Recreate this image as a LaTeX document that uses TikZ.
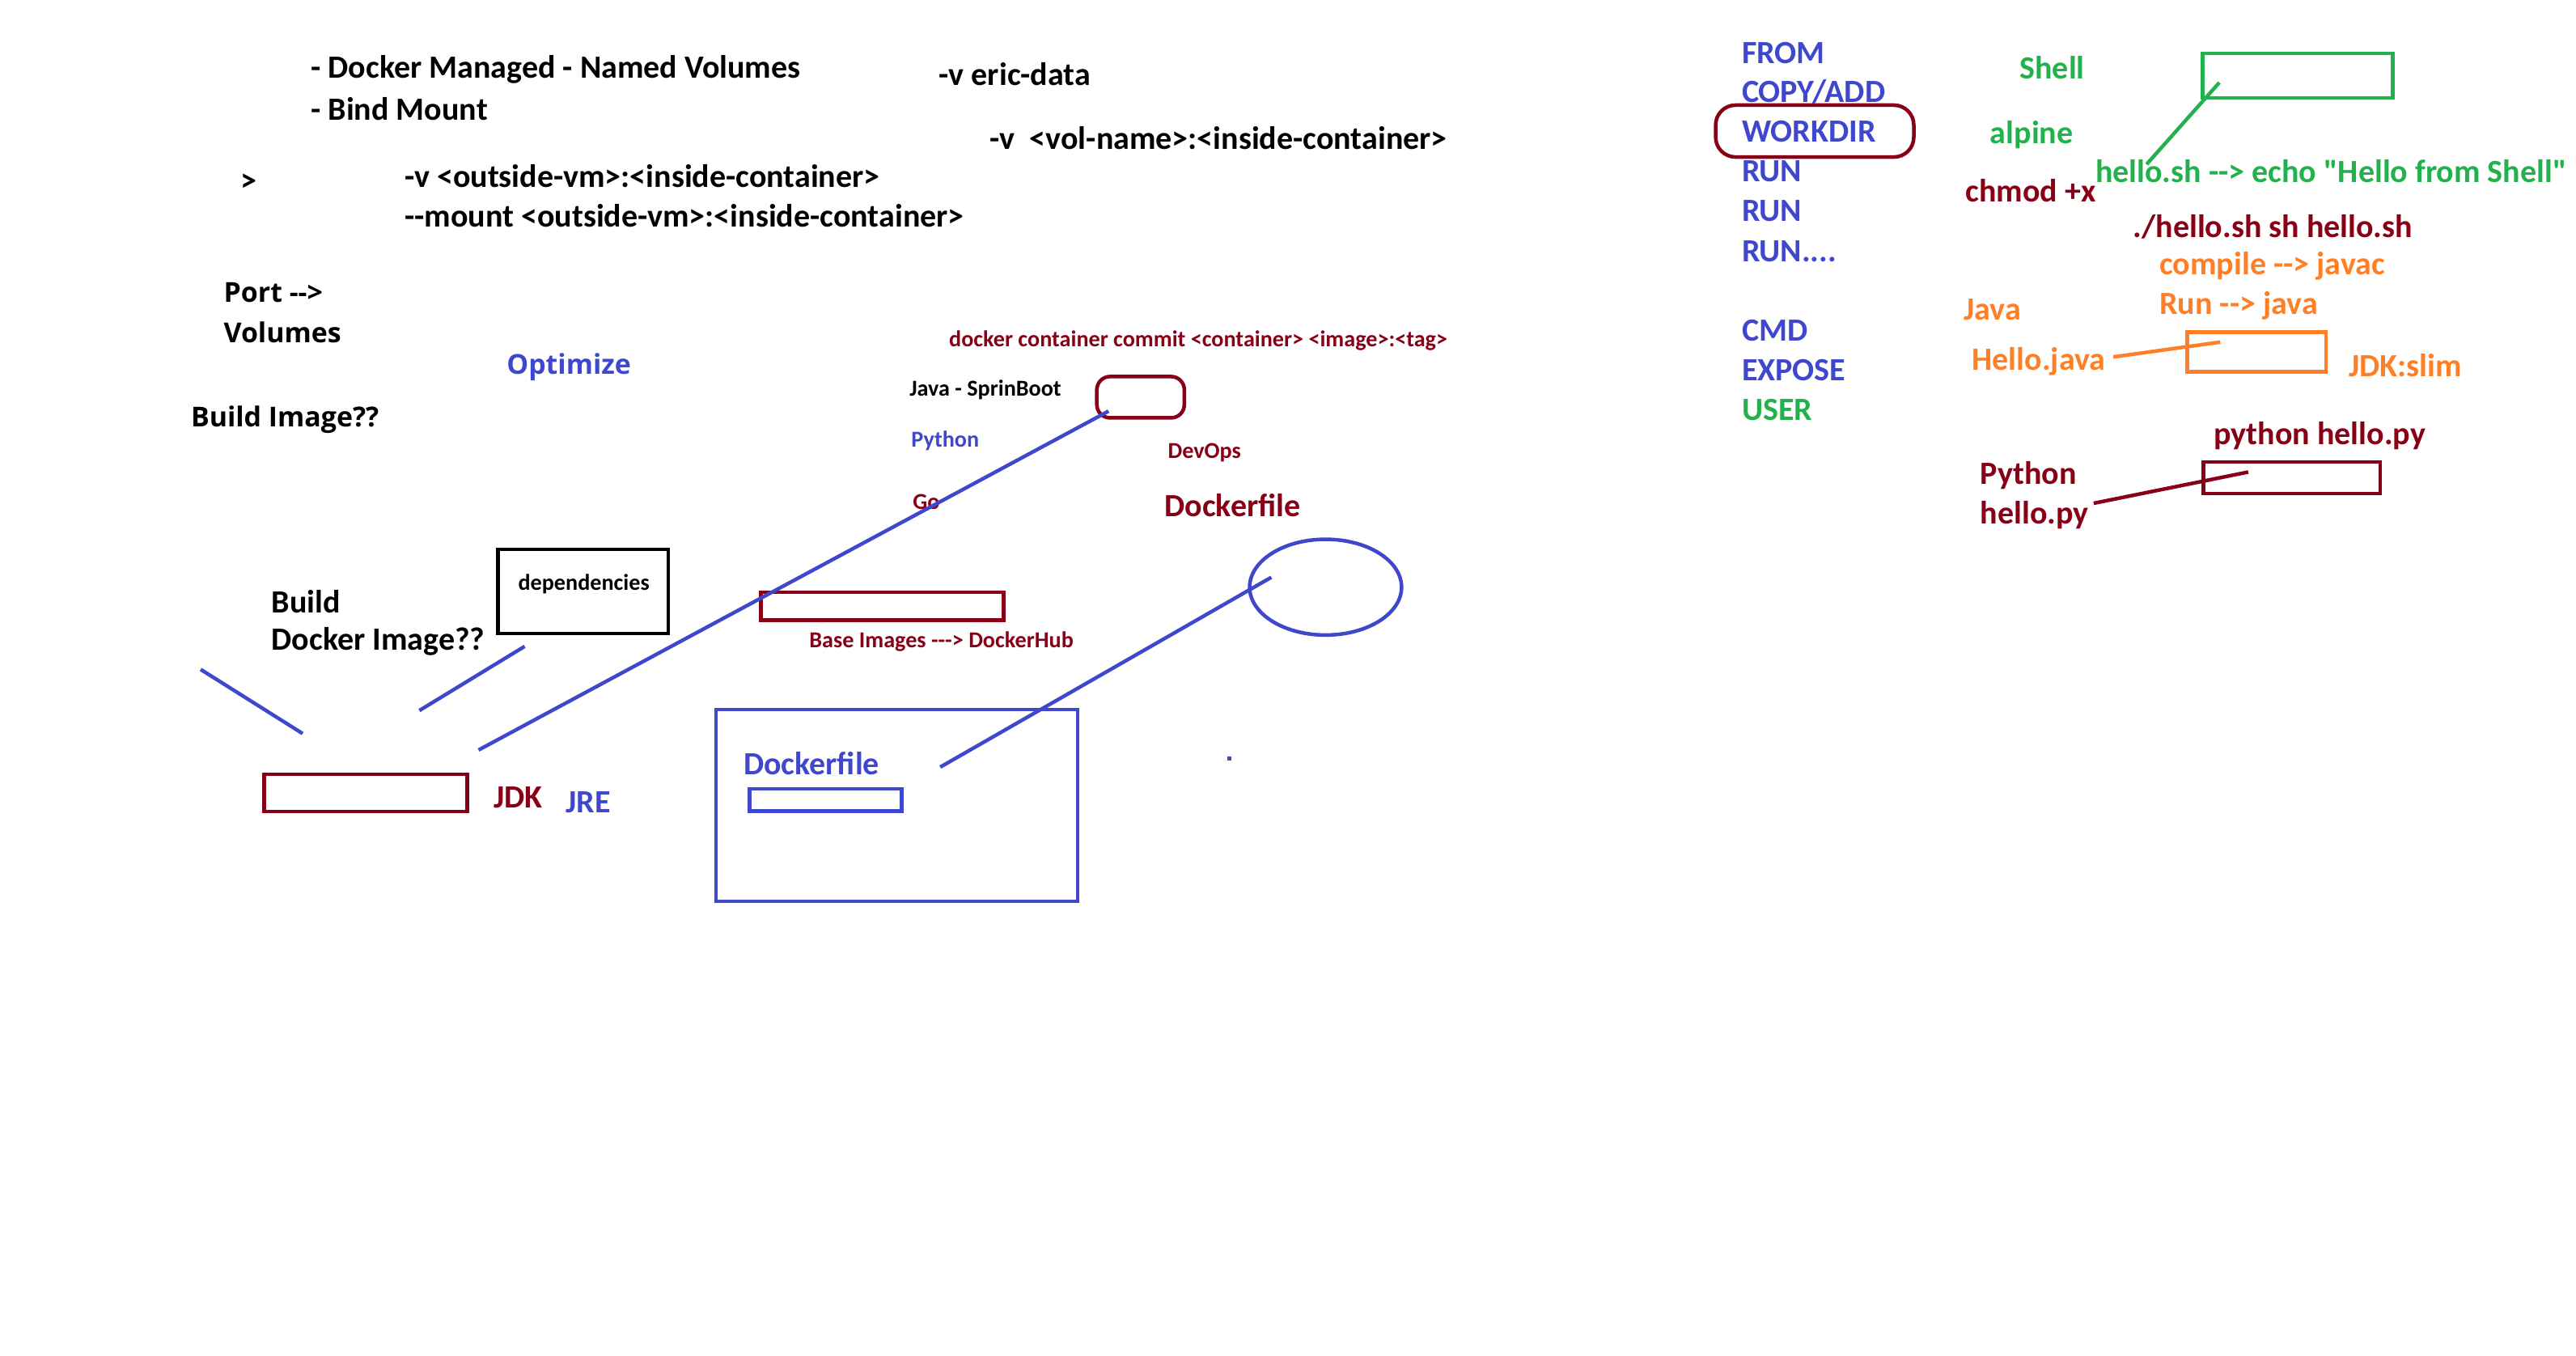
\documentclass[tikz,border=0pt]{standalone}
\usepackage{fontspec}
\setmainfont{Carlito}[Ligatures=TeXOff]
\newfontfamily\segoe{Open Sans}
\usetikzlibrary{arrows}
\usetikzlibrary{shapes.geometric}
\definecolor{indigo}{RGB}{63,72,204}
\definecolor{darkred}{RGB}{136,0,21}
\definecolor{grass}{RGB}{34,177,76}
\definecolor{tangerine}{RGB}{255,127,39}

\begin{document}
\begin{tikzpicture}[x=0.498pt, y=-0.498pt, line width=1.1pt]
			\tikzstyle{txt} = [anchor=west, inner sep=0pt, font=\bfseries\fontsize{9.8}{11}\selectfont]
			\tikzstyle{wide} = [anchor=west, inner sep=0pt, font=\segoe\bfseries\fontsize{8.3}{10}\selectfont]
			\tikzstyle{small} = [anchor=west, inner sep=0pt, font=\bfseries\fontsize{6.9}{8}\selectfont]
			\tikzstyle{box} = [draw, line width=1.1pt, inner sep=0pt]
			\useasboundingbox (0,0) rectangle (1566.3,824.1);
			% volumes notes
			\begin{scope}
			\path
			node[txt] (named) at (188,42) {- Docker Managed - Named Volumes}
			node[txt] (bind) at (188,66) {- Bind Mount}
			node[txt] (gt) at (145,111) {>}
			node[txt] (vopt) at (245,107) {-v <outside-vm>:<inside-container>}
			node[txt] (mount) at (245,131) {--mount <outside-vm>:<inside-container>}
			node[txt] (eric) at (570,45) {-v eric-data}
			node[txt] (volname) at (601,84) {-v \ <vol-name>:<inside-container>}
			node[wide] (port) at (135,178) {Port -->}
			node[wide] (vols) at (135,202) {Volumes}
			node[wide] (build) at (115,255) {Build Image??}
			node[wide, text=indigo] (optim) at (307,223) {Optimize}
			;
			\end{scope}
			% build an image
			\begin{scope}
			\path
			node[txt] (bld) at (164,366) {Build}
			node[txt] (dimg) at (164,390) {Docker Image??}
			node[box, minimum width=51.5pt, minimum height=25.5pt] (deps) at (354.5,359.5) {}
			node[small, anchor=center] (depstxt) at (355,355) {dependencies}
			node[small, text=darkred] (commit) at (576,207) {docker container commit <container> <image>:<tag>}
			node[small] (spring) at (552,237) {Java - SprinBoot}
			node[small, text=indigo] (py) at (553,268) {Python}
			node[small, text=darkred] (go) at (554,305) {Go}
			node[small, text=darkred] (devops) at (709,275) {DevOps}
			node[txt, text=darkred] (dfile) at (707,307) {Dockerfile}
			node[box, draw=darkred, rounded corners=4pt, minimum width=26.5pt, minimum height=12.5pt] (cont) at (693.5,241.5) {}
			node[box, draw=darkred, minimum width=73.5pt, minimum height=8.5pt] (base) at (536.5,368.5) {}
			node[small, text=darkred] (hub) at (491,390) {Base Images ---> DockerHub}
			node[box, draw=indigo, ellipse, minimum width=46pt, minimum height=29pt] (oval) at (806,357) {}
			node[box, draw=indigo, minimum width=109.5pt, minimum height=58pt] (dbox) at (545.3,489.7) {}
			node[txt, text=indigo] (dtxt) at (451,464) {Dockerfile}
			node[box, draw=indigo, minimum width=46pt, minimum height=6.8pt] (dline) at (502,486.4) {}
			node[box, draw=darkred, minimum width=61.5pt, minimum height=11.3pt] (jdkbox) at (222.4,482.1) {}
			node[txt, text=darkred] (jdk) at (299,485) {JDK}
			node[txt, text=indigo] (jre) at (343,488) {JRE}
			;
			\coordinate (a1) at (122,407);
			\coordinate (a2) at (184,446);
			\coordinate (b1) at (255,432);
			\coordinate (b2) at (319,393);
			\coordinate (c1) at (674,250);
			\coordinate (c2) at (291,456);
			\coordinate (d1) at (773,351);
			\coordinate (d2) at (571.7,466.4);
			\draw[indigo] (a1) -- (a2);
			\draw[indigo] (b1) -- (b2);
			\draw[indigo] (c1) -- (c2);
			\draw[indigo] (d1) -- (d2);
			\fill[indigo] (746,460) rectangle (748.5,462.5);
			\end{scope}
			% dockerfile instructions
			\begin{scope}
			\path
			node[txt, text=indigo] (from) at (1058,32) {FROM}
			node[txt, text=indigo] (copy) at (1058,56) {COPY/ADD}
			node[txt, text=indigo] (wdir) at (1058,80) {WORKDIR}
			node[txt, text=indigo] (run1) at (1058,104) {RUN}
			node[txt, text=indigo] (run2) at (1058,128) {RUN}
			node[txt, text=indigo] (run3) at (1058,153) {RUN....}
			node[txt, text=indigo] (cmd) at (1058,201) {CMD}
			node[txt, text=indigo] (expose) at (1058,225) {EXPOSE}
			node[txt, text=grass] (user) at (1058,249) {USER}
			node[box, draw=darkred, rounded corners=6pt, minimum width=60pt, minimum height=15.7pt] (wring) at (1103.4,79.7) {}
			;
			\end{scope}
			% shell, java, python
			\begin{scope}
			\path
			node[txt, text=grass] (shell) at (1227,41) {Shell}
			node[box, draw=grass, minimum width=57.5pt, minimum height=13.5pt] (shbox) at (1397.1,46) {}
			node[txt, text=grass] (alpine) at (1209,82) {alpine}
			node[txt, text=grass] (hellosh) at (1273,104) {hello.sh --> echo "Hello from Shell"}
			node[txt, text=darkred] (chmod) at (1194,116) {chmod +x}
			node[txt, text=darkred] (runsh) at (1296,138) {./hello.sh sh hello.sh}
			node[txt, text=tangerine] (javac) at (1312,162) {compile --> javac}
			node[txt, text=tangerine] (runj) at (1312,186) {Run --> java}
			node[txt, text=tangerine] (java) at (1193,188) {Java}
			node[box, draw=tangerine, minimum width=42pt, minimum height=12pt] (jbox) at (1372,214) {}
			node[txt, text=tangerine] (hjava) at (1198,220) {Hello.java}
			node[txt, text=tangerine] (slim) at (1427,222) {JDK:slim}
			node[txt, text=darkred] (pyrun) at (1345,265) {python hello.py}
			node[box, draw=darkred, minimum width=53.5pt, minimum height=9.5pt] (pybox) at (1393.5,290.5) {}
			node[txt, text=darkred] (pyname) at (1203,289) {Python}
			node[txt, text=darkred] (hpy) at (1203,313) {hello.py}
			;
			\coordinate (s1) at (1349.4,50.2);
			\coordinate (s2) at (1305.2,99.9);
			\coordinate (j1) at (1285,217);
			\coordinate (j2) at (1350,208);
			\coordinate (p1) at (1273,306);
			\coordinate (p2) at (1367,287);
			\draw[grass] (s1) -- (s2);
			\draw[tangerine] (j1) -- (j2);
			\draw[darkred] (p1) -- (p2);
			\end{scope}
\end{tikzpicture}
\end{document}
